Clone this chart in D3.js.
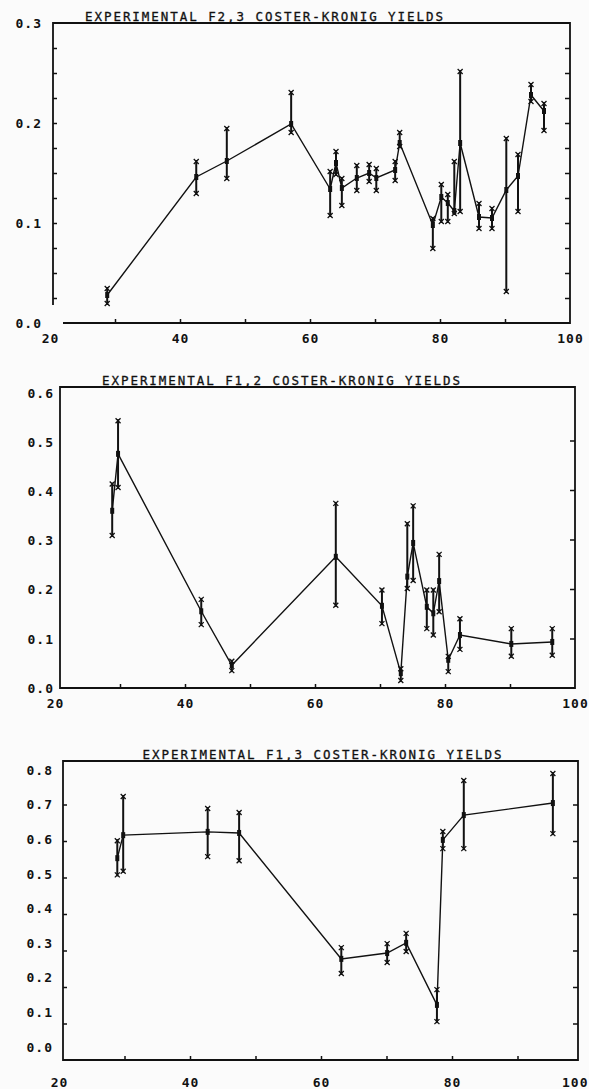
<!DOCTYPE html>
<html lang="en">
<head>
  <meta charset="UTF-8" />
  <title>Experimental Coster-Kronig Yields</title>
  <script src="https://d3js.org/d3.v7.min.js"></script>
  <style>
    body {
      margin: 0;
      padding: 0;
      background: #fbfbfb;
    }
    svg {
      display: block;
    }
    .title {
      font-family: "DejaVu Sans Mono", monospace;
      font-size: 12.5px;
      fill: #111;
      stroke: #111;
      stroke-width: 0.3px;
    }
    .tick text {
      font-family: "DejaVu Sans Mono", monospace;
      font-weight: bold;
      font-size: 13px;
      letter-spacing: 1px;
      fill: #111;
    }
    .tick line {
      stroke: #111;
      stroke-width: 1.5px;
    }
    .frame {
      stroke: #111;
      stroke-width: 1.8px;
      fill: none;
    }
    .curve {
      stroke: #111;
      stroke-width: 1.4px;
      fill: none;
    }
    .bar {
      stroke: #111;
      stroke-width: 2px;
    }
    .cap {
      stroke: #111;
      stroke-width: 1.3px;
      fill: none;
    }
  </style>
</head>
<body>
  <svg width="589" height="1089"></svg>
  <script>
    // atomic number Z, yield value, lower and upper error limits

    // F2,3
    const z23 = [28.8, 42.5, 47.2, 57.1, 63.1, 64.0, 64.9, 67.2, 69.1, 70.2, 73.1, 73.8,
                 78.9, 80.2, 81.2, 82.2, 83.1, 86.0, 88.0, 90.2, 92.0, 94.0, 96.0];
    const f23 = [0.028, 0.146, 0.162, 0.199, 0.134, 0.160, 0.135, 0.145, 0.150, 0.145, 0.153, 0.180,
                 0.098, 0.126, 0.120, 0.112, 0.180, 0.106, 0.105, 0.133, 0.147, 0.228, 0.212];
    const f23Lo = [0.018, 0.128, 0.143, 0.189, 0.106, 0.147, 0.116, 0.131, 0.140, 0.131, 0.141, 0.175,
                   0.073, 0.100, 0.100, 0.108, 0.110, 0.093, 0.093, 0.030, 0.110, 0.220, 0.191];
    const f23Hi = [0.036, 0.163, 0.196, 0.232, 0.153, 0.173, 0.146, 0.159, 0.160, 0.156, 0.163, 0.192,
                   0.106, 0.140, 0.130, 0.163, 0.253, 0.121, 0.116, 0.186, 0.170, 0.240, 0.221];

    // F1,2
    const z12 = [28.8, 29.7, 42.5, 47.2, 63.2, 70.3, 73.2, 74.2, 75.1, 77.2, 78.2, 79.1,
                 80.5, 82.3, 90.2, 96.5];
    const f12 = [0.358, 0.473, 0.155, 0.046, 0.265, 0.166, 0.030, 0.225, 0.293, 0.164, 0.151, 0.216,
                 0.057, 0.107, 0.089, 0.093];
    const f12Lo = [0.305, 0.402, 0.125, 0.032, 0.164, 0.127, 0.012, 0.198, 0.214, 0.117, 0.104, 0.151,
                   0.030, 0.075, 0.061, 0.063];
    const f12Hi = [0.415, 0.543, 0.182, 0.057, 0.376, 0.201, 0.042, 0.335, 0.371, 0.201, 0.201, 0.273,
                   0.067, 0.143, 0.123, 0.123];

    // F1,3
    const z13 = [28.9, 29.8, 42.7, 47.5, 63.1, 70.1, 73.0, 77.7, 78.6, 81.8, 95.4];
    const f13 = [0.553, 0.616, 0.625, 0.622, 0.277, 0.293, 0.321, 0.151, 0.603, 0.671, 0.704];
    const f13Lo = [0.503, 0.513, 0.553, 0.542, 0.233, 0.263, 0.293, 0.101, 0.575, 0.575, 0.616];
    const f13Hi = [0.605, 0.726, 0.693, 0.682, 0.312, 0.323, 0.351, 0.197, 0.630, 0.770, 0.789];

    const xLabels = [20, 40, 60, 80, 100];
    const xMinor = [30, 40, 50, 60, 70, 80, 90];

    const svg = d3.select("svg");
    const W = 589;

    const panels = [
      {
        title: "EXPERIMENTAL F2,3 COSTER-KRONIG YIELDS", titleX: 264, titleLen: 358,
        z: z23, v: f23, lo: f23Lo, hi: f23Hi,
        xRange: [50, 570], frame: { left: 53, right: 570, top: 23, bottom: 323 },
        yMax: 0.3, yRange: [323, 23], labelRange: [323, 23],
        yLabels: [0, 0.1, 0.2, 0.3],
        leftTicks: d3.range(1, 12).map(i => i * 0.025),
        rightTicks: d3.range(1, 12).map(i => i * 0.025),
        labelX: 42, xLabelY: 343,
        open: { leftEnd: 305, bottomStart: 63 }
      },
      {
        title: "EXPERIMENTAL F1,2 COSTER-KRONIG YIELDS", titleX: 281, titleLen: 358,
        z: z12, v: f12, lo: f12Lo, hi: f12Hi,
        xRange: [55, 575], frame: { left: 60, right: 575, top: 387, bottom: 688 },
        yMax: 0.6, yRange: [688, 391], labelRange: [688, 393],
        yLabels: [0, 0.1, 0.2, 0.3, 0.4, 0.5, 0.6],
        leftTicks: [],
        rightTicks: [0.1, 0.2, 0.3, 0.4, 0.5],
        labelX: 54, xLabelY: 708
      },
      {
        title: "EXPERIMENTAL F1,3 COSTER-KRONIG YIELDS", titleX: 322, titleLen: 359,
        z: z13, v: f13, lo: f13Lo, hi: f13Hi,
        xRange: [59, 583], frame: { left: 63, right: 578, top: 761, bottom: 1060 },
        yMax: 0.8, yRange: [1060, 768], labelRange: [1047, 770],
        yLabels: [0, 0.1, 0.2, 0.3, 0.4, 0.5, 0.6, 0.7, 0.8],
        leftTicks: [0.1, 0.2, 0.3, 0.4, 0.5, 0.6, 0.7],
        rightTicks: [0.1, 0.2, 0.3, 0.4, 0.5, 0.6, 0.7],
        labelX: 53, xLabelY: 1087
      }
    ];

    panels.forEach(p => {
      const g = svg.append("g");
      const f = p.frame;
      const x = d3.scaleLinear().domain([20, 100]).range(p.xRange);
      const y = d3.scaleLinear().domain([0, p.yMax]).range(p.yRange);
      const yLab = d3.scaleLinear().domain([0, p.yMax]).range(p.labelRange);

      // frame (first panel has an open lower-left corner)
      const path = d3.path();
      if (p.open) {
        path.moveTo(p.open.bottomStart, f.bottom);
        path.lineTo(f.right, f.bottom);
        path.lineTo(f.right, f.top);
        path.lineTo(f.left, f.top);
        path.lineTo(f.left, p.open.leftEnd);
      } else {
        path.rect(f.left, f.top, f.right - f.left, f.bottom - f.top);
      }
      g.append("path").attr("class", "frame").attr("d", path.toString());

      // title sitting on the top border
      g.append("text")
        .attr("class", "title")
        .attr("x", p.titleX)
        .attr("y", f.top - 2)
        .attr("text-anchor", "middle")
        .attr("textLength", p.titleLen)
        .attr("lengthAdjust", "spacing")
        .text(p.title);

      // inward ticks on the bottom
      g.append("g")
        .attr("transform", `translate(0,${f.bottom})`)
        .call(d3.axisBottom(x).tickValues(xMinor).tickSize(-4).tickFormat(""))
        .call(a => a.select(".domain").remove());

      // bottom labels
      const xl = g.append("g")
        .attr("transform", `translate(0,${p.xLabelY})`)
        .call(d3.axisBottom(x).tickValues(xLabels).tickSize(0).tickPadding(0).tickFormat(d3.format("d")))
        .call(a => a.select(".domain").remove());
      xl.selectAll(".tick text").attr("dy", 0).attr("y", 0);
      xl.selectAll(".tick").each(function (d) {
        if (x(d) + 14 > W) {
          d3.select(this).select("text").attr("text-anchor", "end").attr("x", W - 1 - x(d));
        }
      });

      // left labels
      g.append("g")
        .attr("transform", `translate(${p.labelX},0)`)
        .call(d3.axisLeft(yLab).tickValues(p.yLabels).tickSize(0).tickPadding(0).tickFormat(d3.format(".1f")))
        .call(a => a.select(".domain").remove());

      // left and right inward ticks
      g.append("g")
        .attr("transform", `translate(${f.left},0)`)
        .call(d3.axisLeft(y).tickValues(p.leftTicks).tickSize(-4).tickFormat(""))
        .call(a => a.select(".domain").remove());
      g.append("g")
        .attr("transform", `translate(${f.right},0)`)
        .call(d3.axisRight(y).tickValues(p.rightTicks).tickSize(-5).tickFormat(""))
        .call(a => a.select(".domain").remove());

      const pts = p.z.map((z, i) => ({ z, v: p.v[i], lo: p.lo[i], hi: p.hi[i] }));

      // connecting line
      g.append("path")
        .attr("class", "curve")
        .attr("d", d3.line().x(d => x(d.z)).y(d => y(d.v))(pts));

      // error bars
      const eb = g.selectAll(".eb").data(pts).join("g").attr("class", "eb");
      eb.append("line")
        .attr("class", "bar")
        .attr("x1", d => x(d.z)).attr("x2", d => x(d.z))
        .attr("y1", d => y(d.lo)).attr("y2", d => y(d.hi));
      const cross = "M-2.5,-2.5L2.5,2.5M-2.5,2.5L2.5,-2.5";
      eb.append("path")
        .attr("class", "cap")
        .attr("transform", d => `translate(${x(d.z)},${y(d.hi) + 1.5})`)
        .attr("d", cross);
      eb.append("path")
        .attr("class", "cap")
        .attr("transform", d => `translate(${x(d.z)},${y(d.lo) - 1.5})`)
        .attr("d", cross);
      eb.append("rect")
        .attr("x", d => x(d.z) - 2)
        .attr("y", d => y(d.v) - 3)
        .attr("width", 4)
        .attr("height", 6)
        .attr("fill", "#111");
    });
  </script>
</body>
</html>
